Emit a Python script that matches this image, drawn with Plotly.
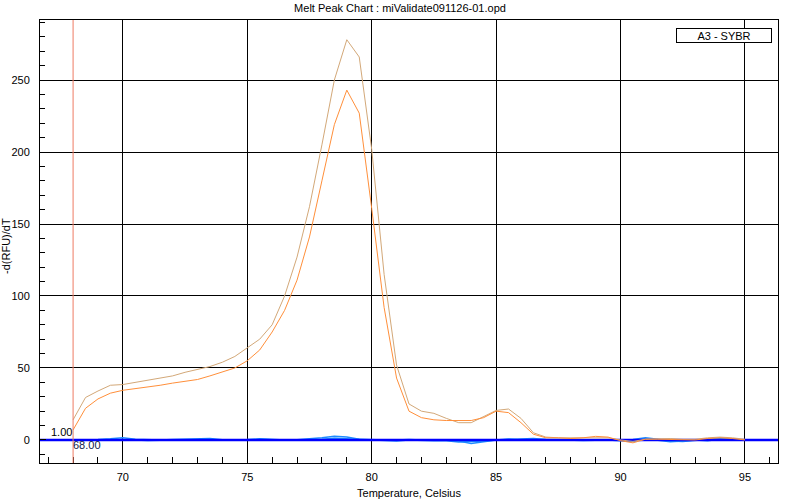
import plotly.graph_objects as go

# ---------------- data ----------------
temps = [68.0, 68.5, 69.0, 69.5, 70.0, 70.5, 71.0, 71.5, 72.0, 72.5,
         73.0, 73.5, 74.0, 74.5, 75.0, 75.5, 76.0, 76.5, 77.0, 77.5,
         78.0, 78.5, 79.0, 79.5, 80.0, 80.5, 81.0, 81.5, 82.0, 82.5,
         83.0, 83.5, 84.0, 84.5, 85.0, 85.5, 86.0, 86.5, 87.0, 87.5,
         88.0, 88.5, 89.0, 89.5, 90.0, 90.5, 91.0, 91.5, 92.0, 92.5,
         93.0, 93.5, 94.0, 94.5, 95.0]

well_a3_rep1 = [14, 29.5, 34, 38, 38.5, 40, 41, 42.5, 44.5, 47,
                49, 51, 54, 58, 64, 70, 80, 100, 127, 162,
                205, 250, 278, 266, 202, 115, 52, 25, 20, 18.5,
                15, 12, 12, 16, 20.5, 21.5, 15, 5, 2, 1.5,
                1.5, 1.5, 2, 1.5, 0, -1, 0.5, 1, 1, 0.5,
                0.5, 1.5, 2, 1.5, 0.5]

well_a3_rep2 = [7, 22, 28.5, 32.5, 34.5, 35.5, 37, 38, 39.5, 40.5,
                42, 44.5, 47, 50, 55, 62.5, 75, 90, 111, 141,
                180, 219, 243, 227, 161, 92, 43, 20, 15.5, 14,
                13.5, 13.5, 13.5, 15.5, 20, 19, 12, 4, 1.5, 1.5,
                1, 1.5, 2.5, 2, -0.5, -2, 0.5, 0.5, 0.5, 0.5,
                0, 1, 1.5, 1, 0]

ntc_1 = [0, 0, 0.3, 0.8, 1.5, 0.5, 0, 0, 0.3, 0.6,
         0.5, 1.0, 0.2, 0, 0, 0.3, 0, 0, 0.2, 0.6,
         1.5, 2.5, 2.0, 0.5, 0, 0, 0, 0.3, 0, 0.2,
         0, -0.8, -2.5, -1.2, 0, 0.6, 0, 0.3, 0.5, 0.6,
         0.4, 0.2, 0, -0.3, 0, 0.3, 1.5, 0.5, -0.8, -1.0,
         -0.3, 0.4, 1.2, 0.6, 0]

ntc_2 = [0, 0, 0, 0.2, 0.5, 0, -0.4, 0, 0, 0,
         0.2, 0.4, 0, 0, 0.3, 0.8, 0.2, 0, 0, 0,
         0.5, 1.2, 0.8, 0, 0, -0.5, -0.8, 0, 0, -0.5,
         -0.6, -1.5, -1.0, -0.8, 0, 0.2, 0.5, 1.0, 0.4, 0,
         -0.2, -0.4, -0.2, 0, -0.6, -1.0, 0.8, 0, -1.2, -0.8,
         0, -0.5, 0.5, 0, 0]

begin_temp = 68.00
threshold = 1.00
threshold_y = 0.0
well_label = "A3 - SYBR"

# ---------------- figure ----------------
FONT = "Arial, Liberation Sans, sans-serif"
fig = go.Figure()

for ys in (ntc_1, ntc_2):
    fig.add_trace(go.Scatter(x=temps, y=ys, mode="lines",
                             line=dict(color="#1E8CFF", width=1.5),
                             showlegend=False, hoverinfo="skip"))

# threshold line
fig.add_trace(go.Scatter(x=[temps[0] - 3, temps[-1] + 3],
                         y=[threshold_y, threshold_y], mode="lines",
                         line=dict(color="#0000FF", width=2.5),
                         showlegend=False, hoverinfo="skip"))

fig.add_trace(go.Scatter(x=temps, y=well_a3_rep1, mode="lines",
                         line=dict(color="#D3A878", width=1),
                         showlegend=False))
fig.add_trace(go.Scatter(x=temps, y=well_a3_rep2, mode="lines",
                         line=dict(color="#FF8F3A", width=1),
                         showlegend=False))

# begin temperature marker
fig.add_shape(type="line", xref="x", yref="paper",
              x0=begin_temp, x1=begin_temp, y0=0, y1=1,
              line=dict(color="#EE7B63", width=1))

fig.add_annotation(x=begin_temp, y=threshold_y, xref="x", yref="y",
                   text=f"{threshold:.2f}", showarrow=False,
                   xanchor="right", yanchor="bottom", xshift=1, yshift=0,
                   font=dict(family=FONT, size=11, color="#000000"))
fig.add_annotation(x=begin_temp, y=threshold_y, xref="x", yref="y",
                   text=f"{begin_temp:.2f}", showarrow=False,
                   xanchor="left", yanchor="top", xshift=-2, yshift=3,
                   font=dict(family=FONT, size=11, color="#10204A"))

# legend box
fig.add_annotation(x=0.927, y=0.965, xref="paper", yref="paper",
                   text=well_label, showarrow=False,
                   xanchor="center", yanchor="middle",
                   width=92, height=11,
                   bordercolor="#000000", borderwidth=1, borderpad=1,
                   bgcolor="white",
                   font=dict(family=FONT, size=11, color="#000000"))

# y axis title
fig.add_annotation(x=-34 / 738, y=0.49, xref="paper", yref="paper",
                   text="-d(RFU)/dT", showarrow=False, textangle=-90,
                   xanchor="center", yanchor="middle",
                   font=dict(family=FONT, size=11, color="black"))

axis_common = dict(
    showline=True, linecolor="black", linewidth=1, mirror=True,
    showgrid=True, gridcolor="black", gridwidth=1,
    zeroline=False, automargin=False,
    ticks="inside", ticklen=6, tickcolor="black",
    tickfont=dict(family=FONT, size=11, color="black"),
)

fig.update_layout(
    width=800, height=500,
    margin=dict(l=40, r=22, t=20, b=37),
    paper_bgcolor="white", plot_bgcolor="white",
    font=dict(family=FONT, size=11, color="black"),
    title=dict(text="Melt Peak Chart : miValidate091126-01.opd",
               x=0.5, xanchor="center", y=0.984, yanchor="middle",
               yref="container",
               font=dict(family=FONT, size=11, color="black")),
    xaxis=dict(range=[66.67, 96.33], dtick=5, tick0=70,
               ticklabelstandoff=4,
               minor=dict(dtick=1, ticks="inside", ticklen=6,
                          tickcolor="black", showgrid=False),
               title=dict(text="Temperature, Celsius", standoff=7,
                          font=dict(family=FONT, size=11, color="black")),
               **axis_common),
    yaxis=dict(range=[-16, 291.7], dtick=50, tick0=0,
               ticklabelstandoff=7,
               minor=dict(dtick=10, ticks="inside", ticklen=5,
                          tickcolor="black", showgrid=False),
               **axis_common),
)

fig.write_html("out.html",
               config={"displayModeBar": False},
               post_script="document.body.style.margin='0';"
                           "document.body.style.padding='0';")
